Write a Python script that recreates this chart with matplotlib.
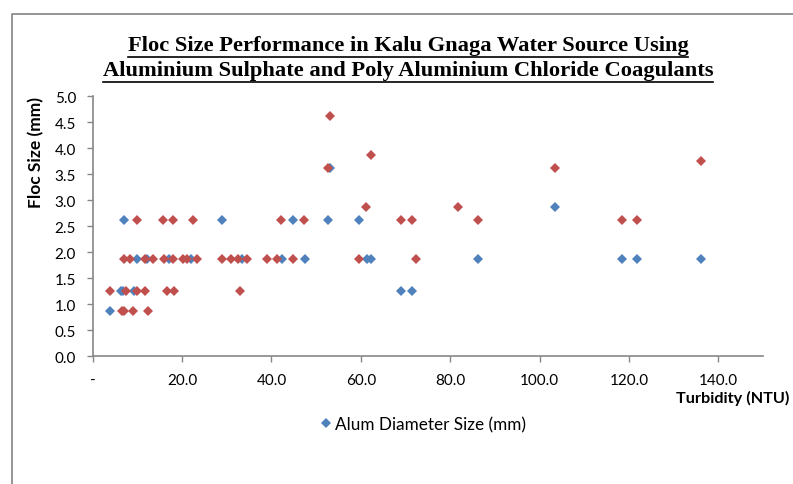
import matplotlib
matplotlib.use("Agg")
import matplotlib.pyplot as plt
from matplotlib.lines import Line2D

# Turbidity (NTU) vs floc size (mm) for each coagulant
alum_turbidity = [3.9, 6.3, 6.8, 7.1, 9.3, 10.0, 12.1, 17.0, 22.1, 29.0, 33.3,
                  42.3, 44.8, 47.5, 52.6, 53.1, 59.6, 61.3, 62.2, 69.0, 71.4,
                  86.3, 103.5, 118.4, 121.8, 136.1]
alum_floc = [0.875, 1.25, 1.25, 2.625, 1.25, 1.875, 1.875, 1.875, 1.875, 2.625, 1.875,
             1.875, 2.625, 1.875, 2.625, 3.625, 2.625, 1.875, 1.875, 1.25, 1.25,
             1.875, 2.875, 1.875, 1.875, 1.875]

pac_turbidity = [6.6, 7.1, 9.1, 12.4,
                 3.9, 7.4, 10.0, 11.6, 16.7, 18.2, 33.0,
                 7.1, 8.4, 11.6, 13.6, 16.0, 18.0, 20.3, 21.2, 23.3, 29.0, 30.9,
                 32.6, 34.5, 39.0, 41.3, 44.8, 59.6, 72.3,
                 10.0, 15.8, 18.0, 22.4, 42.1, 47.3, 69.0, 71.4, 86.2, 118.4, 121.8,
                 61.1, 81.7, 52.6, 103.5, 62.2, 53.1, 136.1]
pac_floc = [0.875, 0.875, 0.875, 0.875,
            1.25, 1.25, 1.25, 1.25, 1.25, 1.25, 1.25,
            1.875, 1.875, 1.875, 1.875, 1.875, 1.875, 1.875, 1.875, 1.875, 1.875, 1.875,
            1.875, 1.875, 1.875, 1.875, 1.875, 1.875, 1.875,
            2.625, 2.625, 2.625, 2.625, 2.625, 2.625, 2.625, 2.625, 2.625, 2.625, 2.625,
            2.875, 2.875, 3.625, 3.625, 3.875, 4.625, 3.75]

x_ticks = [0, 20, 40, 60, 80, 100, 120, 140]
x_tick_labels = ["-", "20.0", "40.0", "60.0", "80.0", "100.0", "120.0", "140.0"]
y_ticks = [0.0, 0.5, 1.0, 1.5, 2.0, 2.5, 3.0, 3.5, 4.0, 4.5, 5.0]

title_lines = ["Floc Size Performance in Kalu Gnaga Water Source Using",
               "Aluminium Sulphate and Poly Aluminium Chloride Coagulants"]

W, H = 793, 485
fig = plt.figure(figsize=(W / 100, H / 100), dpi=100)
fig.patch.set_facecolor("white")

ax = fig.add_axes([92.7 / W, 1 - 357.3 / H, (763 - 92.7) / W, (357.3 - 97.3) / H])

blue = "#4F81BD"
red = "#C0504D"
ax.plot(alum_turbidity, alum_floc, linestyle="none", marker="D", markersize=5.3,
        color=blue, markeredgewidth=0, label="Alum Diameter Size (mm)", zorder=3)
ax.plot(pac_turbidity, pac_floc, linestyle="none", marker="D", markersize=5.3,
        color=red, markeredgewidth=0, zorder=4)

ax.set_xlim(0, 150)
ax.set_ylim(0, 5.0)
ax.set_xticks(x_ticks)
ax.set_xticklabels(x_tick_labels)
ax.set_yticks(y_ticks)
ax.set_yticklabels([f"{v:.1f}" for v in y_ticks])

axis_grey = "#868686"
for side in ("top", "right"):
    ax.spines[side].set_visible(False)
for side in ("left", "bottom"):
    ax.spines[side].set_color(axis_grey)
    ax.spines[side].set_linewidth(1.2)

font = "Lato"
ax.tick_params(axis="both", direction="out", length=4, width=1.0, color=axis_grey,
               labelsize=11, labelcolor="#000000")
ax.tick_params(axis="y", pad=8)
ax.tick_params(axis="x", pad=8)
for lbl in ax.get_xticklabels() + ax.get_yticklabels():
    lbl.set_fontfamily(font)

fig.text(36 / W, 1 - 152 / H, "Floc Size (mm)", rotation=90, ha="center", va="center",
         fontsize=12.5, fontweight="bold", fontfamily=font)
fig.text(676 / W, 1 - 398 / H, "Turbidity (NTU)", ha="left", va="center",
         fontsize=11.7, fontweight="bold", fontfamily=font)

# Legend (only the alum series is listed)
fig.legend(handles=[ax.lines[0]], loc="center", bbox_to_anchor=(424 / W, 1 - 425 / H),
           frameon=False, handlelength=0.5, handletextpad=0.3, markerscale=0.9,
           prop={"family": font, "size": 12.3})

# Title, two underlined lines in serif bold
title_texts = []
for i, line in enumerate(title_lines):
    t = fig.text(408 / W, 1 - (46 + 25 * i) / H, line, ha="center", va="center",
                 fontsize=16.2, fontweight="bold", fontfamily="Liberation Serif")
    title_texts.append(t)

fig.canvas.draw()
renderer = fig.canvas.get_renderer()
for i, t in enumerate(title_texts):
    bb = t.get_window_extent(renderer)
    y_line = 1 - (57.5 + 25 * i) / H
    fig.add_artist(Line2D([bb.x0 / W, bb.x1 / W], [y_line, y_line],
                          transform=fig.transFigure, color="black", linewidth=1.2))

# Chart area border
fig.add_artist(Line2D([12 / W, 12 / W, 1.0], [0.0, 1 - 15 / H, 1 - 15 / H],
                      transform=fig.transFigure, color="#8C8C8C", linewidth=1.3))

fig.savefig("out.png", dpi=100)
